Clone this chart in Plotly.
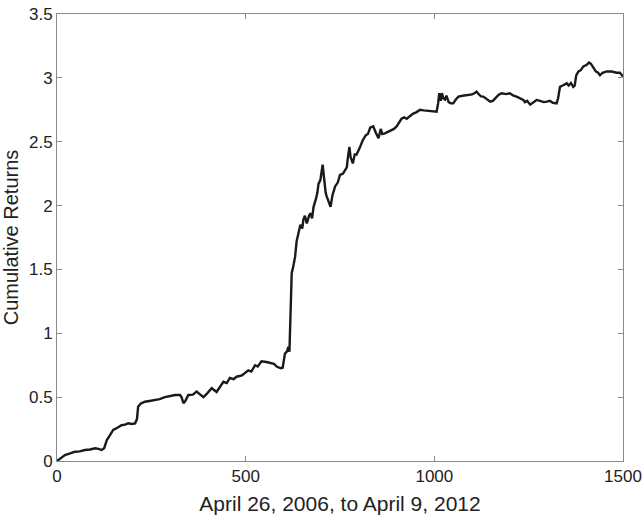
import plotly.graph_objects as go

days = [0, 8, 21, 35, 48, 60, 74, 88, 101, 110, 118, 125, 132, 140, 149, 160, 171, 180, 189, 198,
        207, 212, 215, 222, 233, 245, 260, 272, 286, 300, 313, 326, 330, 335, 340, 348, 360, 370, 380, 388,
        398, 410, 423, 432, 441, 450, 458, 468, 476, 490, 500, 507, 515, 525, 532, 542, 555, 565, 575, 582,
        593, 598, 604, 610, 613, 616, 618, 620, 622, 626, 631, 635, 640, 645, 650, 653, 657, 662, 668, 672,
        676, 680, 686, 690, 693, 698, 704, 708, 712, 715, 720, 725, 730, 737, 744, 750, 758, 764, 768, 771,
        775, 778, 784, 789, 794, 802, 810, 818, 824, 830, 838, 845, 852, 858, 862, 869, 878, 887, 893, 900,
        907, 913, 920, 927, 935, 944, 952, 962, 972, 984, 995, 1006, 1010, 1013, 1017, 1020, 1024, 1028, 1032, 1038,
        1044, 1050, 1057, 1064, 1075, 1086, 1092, 1100, 1106, 1112, 1118, 1124, 1130, 1140, 1148, 1155, 1162, 1170, 1178, 1190,
        1200, 1210, 1218, 1228, 1236, 1240, 1246, 1254, 1262, 1271, 1280, 1290, 1298, 1306, 1314, 1324, 1328, 1333, 1340, 1346,
        1351, 1356, 1362, 1368, 1372, 1376, 1382, 1388, 1395, 1403, 1410, 1415, 1420, 1428, 1434, 1439, 1446, 1457, 1470, 1483,
        1492, 1500]

cum_returns = [0.0, 0.02, 0.047, 0.06, 0.073, 0.075, 0.086, 0.09, 0.10, 0.095, 0.086, 0.10, 0.164, 0.2, 0.243, 0.26, 0.28, 0.285, 0.295, 0.29,
               0.295, 0.33, 0.425, 0.45, 0.464, 0.47, 0.478, 0.485, 0.50, 0.51, 0.517, 0.517, 0.5, 0.452, 0.47, 0.517, 0.52, 0.543, 0.52, 0.50,
               0.53, 0.57, 0.54, 0.58, 0.62, 0.61, 0.65, 0.64, 0.66, 0.67, 0.69, 0.71, 0.70, 0.75, 0.74, 0.78, 0.775, 0.765, 0.76, 0.74,
               0.726, 0.73, 0.84, 0.86, 0.895, 0.856, 1.05, 1.25, 1.47, 1.52, 1.6, 1.72, 1.78, 1.85, 1.82, 1.89, 1.92, 1.86, 1.92, 1.94,
               1.90, 1.99, 2.05, 2.1, 2.17, 2.2, 2.32, 2.2, 2.1, 2.07, 2.03, 1.99, 2.08, 2.15, 2.18, 2.24, 2.25, 2.28, 2.30, 2.38,
               2.46, 2.38, 2.33, 2.40, 2.40, 2.45, 2.51, 2.55, 2.56, 2.61, 2.62, 2.57, 2.527, 2.60, 2.56, 2.566, 2.58, 2.59, 2.6, 2.62,
               2.65, 2.68, 2.69, 2.68, 2.70, 2.72, 2.73, 2.75, 2.745, 2.74, 2.74, 2.735, 2.80, 2.88, 2.82, 2.88, 2.84, 2.83, 2.86, 2.81,
               2.80, 2.80, 2.83, 2.853, 2.86, 2.866, 2.87, 2.87, 2.88, 2.892, 2.87, 2.855, 2.853, 2.83, 2.814, 2.82, 2.84, 2.866, 2.879, 2.873,
               2.879, 2.86, 2.853, 2.84, 2.827, 2.81, 2.82, 2.79, 2.81, 2.827, 2.82, 2.81, 2.814, 2.82, 2.805, 2.80, 2.84, 2.93, 2.94, 2.95,
               2.957, 2.94, 2.96, 2.93, 2.94, 3.02, 3.05, 3.06, 3.09, 3.10, 3.12, 3.11, 3.09, 3.05, 3.04, 3.02, 3.04, 3.05, 3.05, 3.04,
               3.04, 3.01]

x_ticks = [0, 500, 1000, 1500]
y_ticks = [0, 0.5, 1, 1.5, 2, 2.5, 3, 3.5]
y_tick_labels = ["0", "0.5", "1", "1.5", "2", "2.5", "3", "3.5"]

FONT = "Liberation Sans, Arial, sans-serif"

fig = go.Figure()
fig.add_trace(go.Scatter(x=days, y=cum_returns, mode="lines",
                         line=dict(color="#1a1a1a", width=2.4), showlegend=False))

axis_common = dict(showgrid=False, zeroline=False, showline=True, linecolor="#8a8a8a", linewidth=1,
                   mirror="ticks", ticks="inside", ticklen=5, tickcolor="#8a8a8a", tickwidth=1,
                   automargin=False, ticklabeloverflow="allow",
                   tickfont=dict(family=FONT, size=17, color="#222"))

fig.update_xaxes(range=[0, 1500], tickvals=x_ticks, ticktext=[str(v) for v in x_ticks],
                 title=dict(text="April 26, 2006, to April 9, 2012", standoff=10,
                            font=dict(family=FONT, size=21, color="#222")),
                 **axis_common)
fig.update_yaxes(range=[0, 3.5], tickvals=y_ticks, ticktext=y_tick_labels,
                 title=dict(text="Cumulative Returns", standoff=8,
                            font=dict(family=FONT, size=20, color="#222")),
                 **axis_common)

fig.update_layout(width=644, height=521, margin=dict(l=57, r=21, t=14, b=60),
                  paper_bgcolor="white", plot_bgcolor="white")

# remove the default 8px page margin so the figure fills the 644x521 window exactly
fig.write_html("out.html", config={"displayModeBar": False},
               post_script="document.body.style.margin='0';")
